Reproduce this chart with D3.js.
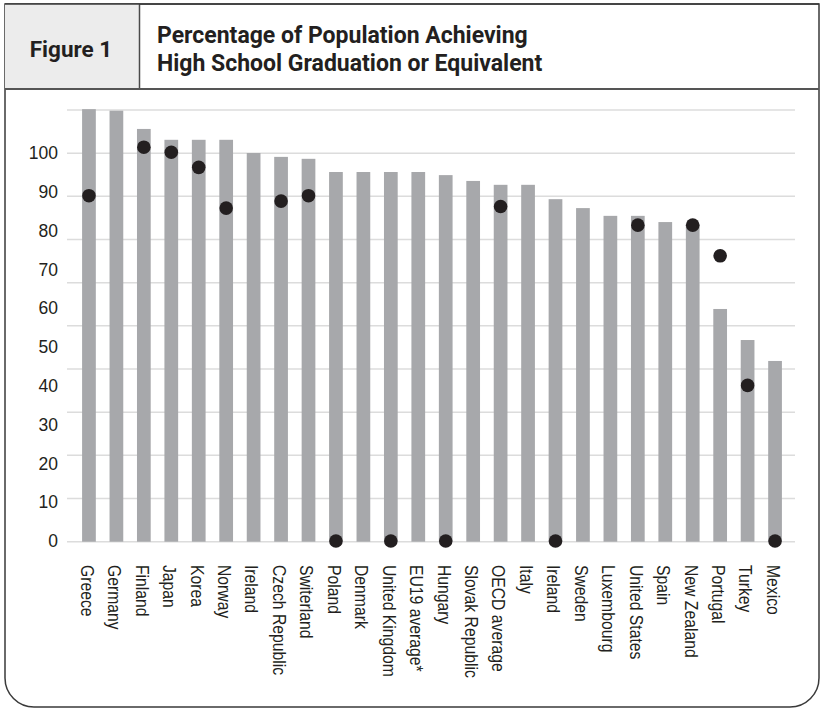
<!DOCTYPE html>
<html lang="en">
<head>
<meta charset="utf-8">
<title>Figure 1</title>
<style>
    body { margin: 0; background: #fff; }
    svg { display: block; }
    .grid line { stroke: #dcdcdc; stroke-width: 1.5; }
    .yaxis text { font-family: "Liberation Sans", Arial, sans-serif; font-size: 17.5px; fill: #231f20; }
    .xaxis text { font-family: "Liberation Sans Narrow", "Liberation Sans", Arial, sans-serif; font-size: 19px; fill: #231f20; }
</style>
</head>
<body>
<svg id="chart" width="820" height="708"></svg>
<script src="https://cdnjs.cloudflare.com/ajax/libs/d3/7.8.5/d3.min.js"></script>
<script>
    // categories, left to right
    var categories = ["Greece", "Germany", "Finland", "Japan", "Korea", "Norway", "Ireland",
        "Czech Republic", "Switerland", "Poland", "Denmark", "United Kingdom", "EU19 average*",
        "Hungary", "Slovak Republic", "OECD average", "Italy", "Ireland", "Sweden", "Luxembourg",
        "United States", "Spain", "New Zealand", "Portugal", "Turkey", "Mexico"];

    // bar values (grey)
    var barValues = [111.3, 110.9, 106.2, 103.4, 103.4, 103.4, 100, 99, 98.5, 95.1, 95.1, 95.1,
        95.1, 94.3, 92.8, 91.8, 91.8, 88.1, 85.8, 83.8, 83.8, 82.2, 81.8, 59.8, 51.8, 46.4];

    // dot values (black), null = no dot
    var dotValues = [89.0, null, 101.5, 100.2, 96.3, 85.8, null, 87.6, 89.0, 0, null, 0, null,
        0, null, 86.2, null, 0, null, null, 81.4, null, 81.4, 73.5, 40.1, 0];

    var yTicks = [0, 10, 20, 30, 40, 50, 60, 70, 80, 90, 100];
    var gridLines = [0, 1, 2, 3, 4, 5, 6, 7, 8, 9, 10];

    var svg = d3.select("#chart");
    var ink = "#231f20";

    // frame: square top, rounded bottom corners
    svg.append("path")
        .attr("d", "M5,4 H819 V678 A29,29 0 0 1 790,707 H34 A29,29 0 0 1 5,678 Z")
        .attr("fill", "#fff")
        .attr("stroke", "#3a3a3a")
        .attr("stroke-width", 1.5);

    // header
    svg.append("rect")
        .attr("x", 5).attr("y", 4)
        .attr("width", 134).attr("height", 85)
        .attr("fill", "#ececec");
    svg.append("line")
        .attr("x1", 139.5).attr("x2", 139.5).attr("y1", 4).attr("y2", 89)
        .attr("stroke", "#4a4a4a").attr("stroke-width", 1.5);
    svg.append("line")
        .attr("x1", 5).attr("x2", 819).attr("y1", 89).attr("y2", 89)
        .attr("stroke", "#555").attr("stroke-width", 2);
    svg.append("line")
        .attr("x1", 5).attr("x2", 819).attr("y1", 4).attr("y2", 4)
        .attr("stroke", "#3a3a3a").attr("stroke-width", 1.5);

    svg.append("text")
        .attr("x", 71).attr("y", 57)
        .attr("text-anchor", "middle")
        .attr("font-family", "Roboto, sans-serif")
        .attr("font-weight", "bold")
        .attr("font-size", "22.5px")
        .attr("fill", ink)
        .text("Figure 1");

    var title = svg.append("text")
        .attr("font-family", "Roboto, sans-serif")
        .attr("font-weight", "bold")
        .attr("font-size", "23px")
        .attr("fill", ink);
    title.append("tspan").attr("x", 157).attr("y", 43).text("Percentage of Population Achieving");
    title.append("tspan").attr("x", 157).attr("y", 71).text("High School Graduation or Equivalent");

    // scales
    var x = d3.scaleBand()
        .domain(d3.range(categories.length))
        .range([67, 797])
        .paddingInner(0.5)
        .paddingOuter(0.55);

    var y = d3.scaleLinear().domain([0, 100]).range([541, 153]);

    // the gridlines are spaced on their own, not on the labelled ticks
    var gridY = d3.scaleLinear().domain([0, 10]).range([541.7, 110]);

    svg.append("g")
        .attr("class", "grid")
        .selectAll("line")
        .data(gridLines)
        .enter()
        .append("line")
        .attr("x1", 67)
        .attr("x2", 795)
        .attr("y1", function(d) { return gridY(d); })
        .attr("y2", function(d) { return gridY(d); });

    // bars
    svg.append("g")
        .selectAll("rect")
        .data(barValues)
        .enter()
        .append("rect")
        .attr("x", function(d, i) { return x(i); })
        .attr("y", function(d) { return y(d); })
        .attr("width", x.bandwidth())
        .attr("height", function(d) { return gridY(0) - y(d); })
        .attr("fill", "#a7a8ab");

    // dots
    svg.append("g")
        .selectAll("circle")
        .data(dotValues.map(function(v, i) { return { i: i, v: v }; })
            .filter(function(d) { return d.v !== null; }))
        .enter()
        .append("circle")
        .attr("cx", function(d) { return x(d.i) + x.bandwidth() / 2; })
        .attr("cy", function(d) { return y(d.v); })
        .attr("r", 6.8)
        .attr("fill", ink);

    // y axis labels
    var yAxis = svg.append("g")
        .attr("class", "yaxis")
        .attr("transform", "translate(67,0)")
        .call(d3.axisLeft(y).tickValues(yTicks).tickSize(0).tickPadding(9));
    yAxis.select(".domain").remove();
    yAxis.selectAll("text").attr("dy", "0.33em");

    // category labels, rotated
    var xAxis = svg.append("g")
        .attr("class", "xaxis")
        .attr("transform", "translate(0,542)")
        .call(d3.axisBottom(x).tickSize(0).tickFormat(function(i) { return categories[i]; }));
    xAxis.select(".domain").remove();

    var labels = xAxis.selectAll("text");
    // squeeze the text if the narrow face is not installed
    var w = labels.filter(function(d) { return d === 11; }).node().getComputedTextLength();
    var squeeze = w > 122 ? 112 / w : 1;
    labels
        .attr("text-anchor", "start")
        .attr("x", 23 / squeeze)
        .attr("y", 1.5)
        .attr("dy", "0.35em")
        .attr("transform", "rotate(90) scale(" + squeeze + ",1)");
</script>
</body>
</html>
